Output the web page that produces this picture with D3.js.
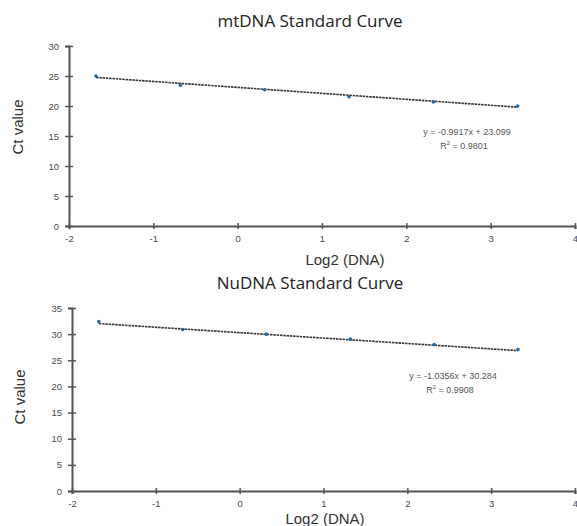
<!DOCTYPE html>
<html><head><meta charset="utf-8">
<script src="https://cdn.jsdelivr.net/npm/d3@7"></script>
<style>body{margin:0;background:#fff}svg{display:block}</style>
</head><body>
<svg id="c" width="577" height="526"></svg>
<script>
const xTicks = [-2, -1, 0, 1, 2, 3, 4];
const log2DNA = [-1.68, -0.68, 0.32, 1.32, 2.32, 3.32];
const mtCt = [25.0, 23.45, 22.7, 21.55, 20.67, 20.0];
const nuCt = [32.4, 30.9, 30.0, 29.04, 28.0, 27.06];
const mtYTicks = [0, 5, 10, 15, 20, 25, 30];
const nuYTicks = [0, 5, 10, 15, 20, 25, 30, 35];
const mtFit = {slope: -0.9917, intercept: 23.099, r2: "0.9801", eq: "y = -0.9917x + 23.099"};
const nuFit = {slope: -1.0356, intercept: 30.284, r2: "0.9908", eq: "y = -1.0356x + 30.284"};

const svg = d3.select("#c");
const font = "'Liberation Sans', Arial, sans-serif";

function panel(o) {
  const g = svg.append("g");
  const x = d3.scaleLinear().domain([-2, 4]).range([o.x0, o.x1]);
  const y = d3.scaleLinear().domain([0, o.ymax]).range([o.y0, o.y1]);

  g.append("text").attr("x", o.tx).attr("y", o.ty).attr("text-anchor", "middle")
    .attr("font-family", "'Open Sans', sans-serif").attr("font-size", 17).attr("fill", "#222")
    .text(o.title);

  const xa = g.append("g").attr("transform", `translate(0,${o.y0})`)
    .call(d3.axisBottom(x).tickValues(xTicks).tickFormat(d => String(d)).tickSize(3).tickPadding(6));
  xa.selectAll(".tick line").attr("y1", -3).attr("y2", 3).attr("stroke", "#555").attr("stroke-width", 1.5);
  xa.select(".domain").attr("stroke", "#555").attr("stroke-width", 2);
  xa.selectAll("text").attr("font-family", font).attr("font-size", 9.5).attr("fill", "#4a4a4a");

  const ya = g.append("g").attr("transform", `translate(${o.x0},0)`)
    .call(d3.axisLeft(y).tickValues(o.yTicks).tickFormat(d => String(d)).tickSize(4).tickPadding(6));
  ya.selectAll(".tick line").attr("x1", -4).attr("x2", 4).attr("stroke", "#555").attr("stroke-width", 1.5);
  ya.select(".domain").attr("stroke", "#555").attr("stroke-width", 2);
  ya.selectAll("text").attr("font-family", font).attr("font-size", 9.5).attr("fill", "#4a4a4a");

  g.append("text").attr("transform", `translate(${o.ylx},${o.yly}) rotate(-90)`)
    .attr("text-anchor", "middle").attr("font-family", font).attr("font-size", 15).attr("fill", "#333")
    .text("Ct value");
  g.append("text").attr("x", o.xlx).attr("y", o.xly).attr("text-anchor", "middle")
    .attr("font-family", font).attr("font-size", 15).attr("fill", "#333").text("Log2 (DNA)");

  const xs = d3.extent(log2DNA);
  g.append("line").attr("x1", x(xs[0])).attr("x2", x(xs[1]))
    .attr("y1", y(o.fit.slope * xs[0] + o.fit.intercept))
    .attr("y2", y(o.fit.slope * xs[1] + o.fit.intercept))
    .attr("stroke", "#333").attr("stroke-width", 1.6).attr("stroke-dasharray", "2.5,0.8");

  g.selectAll("circle").data(log2DNA).join("circle")
    .attr("cx", d => x(d)).attr("cy", (d, i) => y(o.vals[i])).attr("r", 1.8).attr("fill", "#1f6aa5");

  g.append("text").attr("x", o.ex).attr("y", o.ey).attr("text-anchor", "middle")
    .attr("font-family", font).attr("font-size", 9).attr("fill", "#555").text(o.fit.eq);
  const r = g.append("text").attr("x", o.ex - 3).attr("y", o.ey + 14).attr("text-anchor", "middle")
    .attr("font-family", font).attr("font-size", 9).attr("fill", "#555");
  r.append("tspan").text("R");
  r.append("tspan").attr("dy", -4).attr("font-size", 6).text("2");
  r.append("tspan").attr("dy", 4).text(" = " + o.fit.r2);
}

panel({x0: 69, x1: 575, y0: 226, y1: 46, ymax: 30, yTicks: mtYTicks, vals: mtCt, fit: mtFit,
  title: "mtDNA Standard Curve", tx: 310, ty: 27, ylx: 23, yly: 127, xlx: 345, xly: 265, ex: 467, ey: 135});
panel({x0: 72, x1: 575, y0: 491, y1: 308, ymax: 35, yTicks: nuYTicks, vals: nuCt, fit: nuFit,
  title: "NuDNA Standard Curve", tx: 310, ty: 289, ylx: 25, yly: 397, xlx: 325, xly: 524, ex: 453, ey: 379});
</script>
</body></html>
